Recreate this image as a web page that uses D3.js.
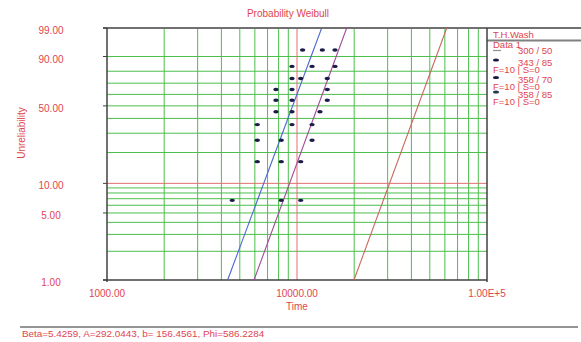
<!DOCTYPE html>
<html><head><meta charset="utf-8">
<script src="https://cdn.jsdelivr.net/npm/d3@7"></script>
<style>
html,body{margin:0;padding:0;background:#fff;}
svg{display:block;font-family:"Liberation Sans",Arial,sans-serif;}
</style></head>
<body>
<svg id="c" width="581" height="342"></svg>
<script>
// ---- data ----
const chartTitle = "Probability Weibull";
const xAxisTitle = "Time";
const yAxisTitle = "Unreliability";
const footerText = "Beta=5.4259, A=292.0443, b= 156.4561, Phi=586.2284";

const xTickValues = [1000, 10000, 100000];
const xTickLabels = ["1000.00", "10000.00", "1.00E+5"];
const yTickValues = [1, 5, 10, 50, 90, 99];
const yTickLabels = ["1.00", "5.00", "10.00", "50.00", "90.00", "99.00"];

const xGridGreen = [2000,3000,4000,5000,6000,7000,8000,9000,20000,30000,40000,50000,60000,70000,80000,90000];
const xGridRed = [10000];
const yGridGreen = [2,3,4,5,6,7,8,9,20,30,40,50,60,70,80,90];
const yGridRed = [10];

// median ranks (%) of the plotted points
const medianRanks = [6.73, 16.35, 25.96, 35.58, 45.19, 54.81, 64.42, 74.04, 83.65, 93.27];
// failure times for the three point series
const series343_85 = [4560, 6180, 6180, 6180, 7750, 7750, 7750, 9410, 9410, 10700];
const series358_70 = [8260, 8260, 8260, 9410, 9410, 9410, 9410, 10460, 12000, 13590];
const series358_85 = [10460, 10460, 12000, 12000, 13210, 14430, 14430, 14430, 15850, 15850];

// fitted lines: time at 1% and at 99% unreliability
const lineNames = ["fit 343/85", "fit 358/70", "300 / 50"];
const lineTimeAt1 = [4315, 5940, 19950];
const lineTimeAt99 = [13490, 18260, 61380];
const lineColors = ["#4a6ad0", "#a04c98", "#c86a5c"];

const legendHeader = "T.H.Wash";
const legendData = "Data 1";
const legendEntries = ["300 / 50", "343 / 85", "358 / 70", "358 / 85"];
const legendSub = "F=10 | S=0";

// ---- drawing ----
const svg = d3.select("#c");
const red = "#e0454f";
const L = 107, R = 487, T = 28, B = 280;

const x = d3.scaleLog().domain([1000, 100000]).range([L, R]);
const ww = p => Math.log(-Math.log(1 - p / 100));
const yLin = d3.scaleLinear().domain([ww(1), ww(99)]).range([B, T]);
const y = p => yLin(ww(p));

// grid
const g = svg.append("g");
g.selectAll(".hg").data(yGridGreen).join("line")
  .attr("x1", L).attr("x2", R).attr("y1", d => y(d)).attr("y2", d => y(d))
  .attr("stroke", "#4cbf4c").attr("stroke-width", 1);
g.selectAll(".vg").data(xGridGreen).join("line")
  .attr("y1", T).attr("y2", B).attr("x1", d => x(d)).attr("x2", d => x(d))
  .attr("stroke", "#4cbf4c").attr("stroke-width", 1);
g.selectAll(".hr").data(yGridRed).join("line")
  .attr("x1", L).attr("x2", R).attr("y1", d => y(d)).attr("y2", d => y(d))
  .attr("stroke", "#e07070").attr("stroke-width", 1);
g.selectAll(".vr").data(xGridRed).join("line")
  .attr("y1", T).attr("y2", B).attr("x1", d => x(d)).attr("x2", d => x(d))
  .attr("stroke", "#e07070").attr("stroke-width", 1);

// frame
svg.append("line").attr("x1", L - 4).attr("x2", 581).attr("y1", T).attr("y2", T)
  .attr("stroke", "#707070").attr("stroke-width", 2);
svg.append("line").attr("x1", R).attr("x2", 581).attr("y1", 40.5).attr("y2", 40.5)
  .attr("stroke", "#808080").attr("stroke-width", 2);
svg.append("line").attr("x1", L).attr("x2", L).attr("y1", T).attr("y2", B + 2)
  .attr("stroke", "#404040").attr("stroke-width", 1.5);
svg.append("line").attr("x1", R).attr("x2", R).attr("y1", T).attr("y2", B + 2)
  .attr("stroke", "#404040").attr("stroke-width", 1.5);
svg.append("line").attr("x1", L - 4).attr("x2", R).attr("y1", B).attr("y2", B)
  .attr("stroke", "#404040").attr("stroke-width", 1.5);

// y ticks
const yAxis = svg.append("g");
yAxis.selectAll("line").data(yTickValues).join("line")
  .attr("x1", L - 4).attr("x2", L).attr("y1", d => y(d)).attr("y2", d => y(d))
  .attr("stroke", "#404040").attr("stroke-width", 1);
yAxis.selectAll("text").data(yTickValues).join("text")
  .attr("x", 51).attr("y", d => y(d) + 6).attr("text-anchor", "middle")
  .attr("font-size", 10).attr("fill", red).text((d, i) => yTickLabels[i]);

// x ticks
const xAxis = svg.append("g");
xAxis.selectAll("text").data(xTickValues).join("text")
  .attr("x", d => x(d)).attr("y", 297).attr("text-anchor", "middle")
  .attr("font-size", 10).attr("fill", red).text((d, i) => xTickLabels[i]);

// titles
svg.append("text").attr("x", 288).attr("y", 17).attr("text-anchor", "middle")
  .attr("font-size", 10).attr("fill", red).text(chartTitle);
svg.append("text").attr("x", 297).attr("y", 310).attr("text-anchor", "middle")
  .attr("font-size", 10).attr("fill", red).text(xAxisTitle);
svg.append("text").attr("transform", "translate(25,133) rotate(-90)")
  .attr("text-anchor", "middle").attr("font-size", 10).attr("fill", red).text(yAxisTitle);

// footer
svg.append("line").attr("x1", 20).attr("x2", 578).attr("y1", 327).attr("y2", 327)
  .attr("stroke", "#707070").attr("stroke-width", 1.5);
svg.append("text").attr("x", 22).attr("y", 337).attr("font-size", 9.9).attr("fill", red).text(footerText);

// fitted lines
const plot = svg.append("g");
const lineGen = d3.line().x(d => x(d.t)).y(d => y(d.p));
lineNames.forEach((n, i) => {
  plot.append("path")
    .datum([{t: lineTimeAt1[i], p: 1}, {t: lineTimeAt99[i], p: 99}])
    .attr("d", lineGen).attr("fill", "none")
    .attr("stroke", lineColors[i]).attr("stroke-width", 1.1);
});

// points
[series343_85, series358_70, series358_85].forEach(s => {
  plot.selectAll(null).data(s.map((t, i) => ({t, p: medianRanks[i]}))).join("ellipse")
    .attr("cx", d => x(d.t)).attr("cy", d => y(d.p)).attr("rx", 2.7).attr("ry", 1.7)
    .attr("fill", "#1c1c48");
});

// legend
const lg = svg.append("g").attr("font-size", 9.5).attr("fill", red);
lg.append("text").attr("x", 493).attr("y", 38).text(legendHeader);
lg.append("text").attr("x", 493).attr("y", 47.5).text(legendData);
lg.append("line").attr("x1", 493).attr("x2", 501).attr("y1", 50.5).attr("y2", 50.5)
  .attr("stroke", "#909090").attr("stroke-width", 1.2);
const entryY = [54, 65.5, 83, 97.5];
legendEntries.forEach((e, i) => {
  lg.append("text").attr("x", 518).attr("y", entryY[i]).text(e);
  if (i > 0) {
    lg.append("ellipse").attr("cx", 496).attr("cy", entryY[i] - 5.5).attr("rx", 3).attr("ry", 1.6)
      .attr("fill", i === 3 ? "#1f3a48" : "#1c1c48");
    lg.append("text").attr("x", 493).attr("y", entryY[i] + 7).text(legendSub);
  }
});
</script>
</body></html>
